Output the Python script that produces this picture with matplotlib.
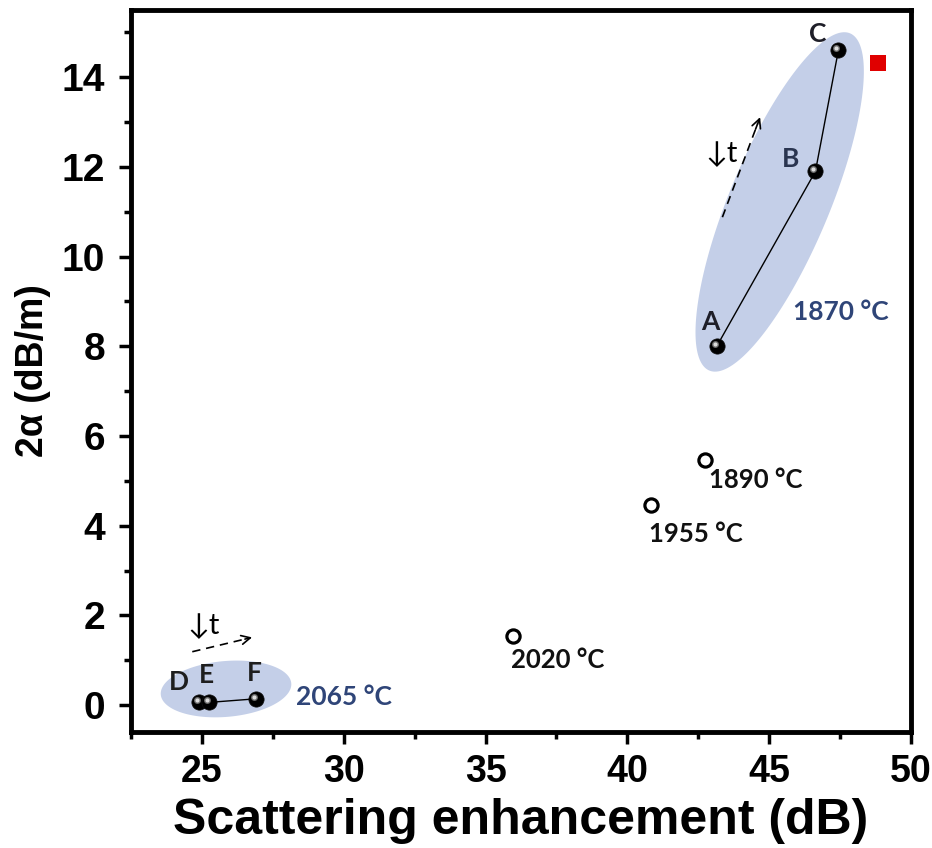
import matplotlib
matplotlib.use('Agg')
import matplotlib.pyplot as plt
from matplotlib.patches import Polygon
from matplotlib.transforms import offset_copy
import numpy as np

# ---------------- data ----------------
seq1_x = [43.15, 46.63, 47.44]
seq1_y = [8.0, 11.9, 14.6]
seq1_labels = ['A', 'B', 'C']

seq2_x = [24.9, 25.25, 26.9]
seq2_y = [0.06, 0.06, 0.14]
seq2_labels = ['D', 'E', 'F']

open_x = [42.75, 40.84, 35.96]
open_y = [5.46, 4.46, 1.54]
open_labels = ['1890 °C', '1955 °C', '2020 °C']

red_x = [48.84]
red_y = [14.31]

group_labels = ['1870 °C', '2065 °C']

x_ticks = [25, 30, 35, 40, 45, 50]
y_ticks = [0, 2, 4, 6, 8, 10, 12, 14]

BOLD = 'Liberation Sans'
ANN = 'Lato'

fig = plt.figure(figsize=(9.32, 8.48), dpi=100)
ax = fig.add_axes([131 / 932, 1 - 732 / 848, (911 - 131) / 932, (732 - 10) / 848])
ax.set_xlim(22.5, 50)
ax.set_ylim(-0.6, 15.5)

ell_color = '#c4cfe8'
t = np.linspace(0, 2 * np.pi, 200)


def ellipse(center, u, v):
    c = np.array(center)
    pts = c[None, :] + np.cos(t)[:, None] * np.array(u)[None, :] + np.sin(t)[:, None] * np.array(v)[None, :]
    return Polygon(pts, closed=True, facecolor=ell_color, edgecolor='none', zorder=1)


ax.add_patch(ellipse((45.37, 11.22), (2.48, 3.76), (1.63, -0.43)))
ax.add_patch(ellipse((25.85, 0.36), (2.30, 0.127), (0.086, -0.62)))

# connecting lines
ax.plot(seq1_x, seq1_y, color='black', lw=1.0, zorder=2)
ax.plot(seq2_x, seq2_y, color='black', lw=1.0, zorder=2)

# sphere markers
hl = offset_copy(ax.transData, fig=fig, x=-2.2, y=2.2, units='dots')
for xs, ys in ((seq1_x, seq1_y), (seq2_x, seq2_y)):
    ax.plot(xs, ys, 'o', ms=11, color='black', mec='#111111', mew=0.5, zorder=3, linestyle='none')
    ax.plot(xs, ys, 'o', ms=5, color='#6a6a6a', mew=0, zorder=4, linestyle='none', transform=hl)
    ax.plot(xs, ys, 'o', ms=3, color='#dcdcdc', mew=0, zorder=5, linestyle='none', transform=hl)

# open circles
ax.plot(open_x, open_y, 'o', ms=9.5, mfc='white', mec='black', mew=2.3, linestyle='none', zorder=3)

# red square
ax.plot(red_x, red_y, 's', ms=11.5, color='#e00000', mew=0, linestyle='none', zorder=3)

# letter labels
letter_off1 = [(-4.3, 17.3), (-18, 9), (-15, 12)]
letter_col1 = ['#1e1e28', '#2a3550', '#1e1e28']
for x, y, s, off, c in zip(seq1_x, seq1_y, seq1_labels, letter_off1, letter_col1):
    ax.annotate(s, (x, y), xytext=off, textcoords='offset points', ha='center', va='center',
                fontsize=19, fontweight='bold', family=ANN, color=c, zorder=6)
letter_off2 = [(-14.4, 14.4), (-2, 19.4), (-1.2, 18.7)]
for x, y, s, off in zip(seq2_x, seq2_y, seq2_labels, letter_off2):
    ax.annotate(s, (x, y), xytext=off, textcoords='offset points', ha='center', va='center',
                fontsize=19, fontweight='bold', family=ANN, color='#1e1e1e', zorder=6)

# temperature labels of open circles
open_off = [(2.4, -14.4), (-1.4, -20.9), (-1.2, -17.3)]
for x, y, s, off in zip(open_x, open_y, open_labels, open_off):
    ax.annotate(s, (x, y), xytext=off, textcoords='offset points', ha='left', va='center',
                fontsize=18.5, fontweight='bold', family=ANN, color='#111111', zorder=6)

# group temperature labels
ax.text(45.85, 8.76, group_labels[0], ha='left', va='center', fontsize=19, fontweight='bold',
        family=ANN, color='#2f4578', zorder=6)
ax.text(28.31, 0.18, group_labels[1], ha='left', va='center', fontsize=19, fontweight='bold',
        family=ANN, color='#2f4578', zorder=6)

# dashed arrows with time labels
arrows = [((43.35, 10.88), (44.68, 13.11)), ((24.66, 1.19), (26.77, 1.51))]
for (tx, ty), (hx, hy) in arrows:
    ax.plot([tx, hx - 0.06 * (hx - tx)], [ty, hy - 0.06 * (hy - ty)], color='black', lw=1.2,
            linestyle=(0, (5, 3.5)), zorder=6)
    ax.annotate('', xy=(hx, hy), xytext=(hx - 0.12 * (hx - tx), hy - 0.12 * (hy - ty)),
                arrowprops=dict(arrowstyle='->', lw=1.2, color='black', mutation_scale=16,
                                shrinkA=0, shrinkB=0), zorder=6)
ax.text(43.31, 12.28, '↓t', ha='center', va='center', fontsize=21, family=[ANN, 'DejaVu Sans'], zorder=6)
ax.text(25.05, 1.76, '↓t', ha='center', va='center', fontsize=21, family=[ANN, 'DejaVu Sans'], zorder=6)

# axes styling
for sp in ax.spines.values():
    sp.set_linewidth(3.5)
ax.set_xticks(x_ticks)
ax.set_yticks(y_ticks)
ax.set_xticks([22.5, 27.5, 32.5, 37.5, 42.5, 47.5], minor=True)
ax.set_yticks([1, 3, 5, 7, 9, 11, 13, 15], minor=True)
ax.tick_params(which='major', direction='out', length=8.5, width=2.5)
ax.tick_params(which='minor', direction='out', length=5, width=2.5)
ax.tick_params(axis='x', which='major', pad=7)
ax.tick_params(axis='y', which='major', pad=10)
ax.set_xticklabels([str(v) for v in x_ticks], fontsize=27, fontweight='bold', family=BOLD)
ax.set_yticklabels([str(v) for v in y_ticks], fontsize=28, fontweight='bold', family=BOLD)
ax.set_xlabel('Scattering enhancement (dB)', fontsize=36, fontweight='bold', family=BOLD, labelpad=6)
ax.set_ylabel('2α (dB/m)', fontsize=27, fontweight='bold', family=BOLD, labelpad=8)

fig.savefig('out.png', dpi=100)
